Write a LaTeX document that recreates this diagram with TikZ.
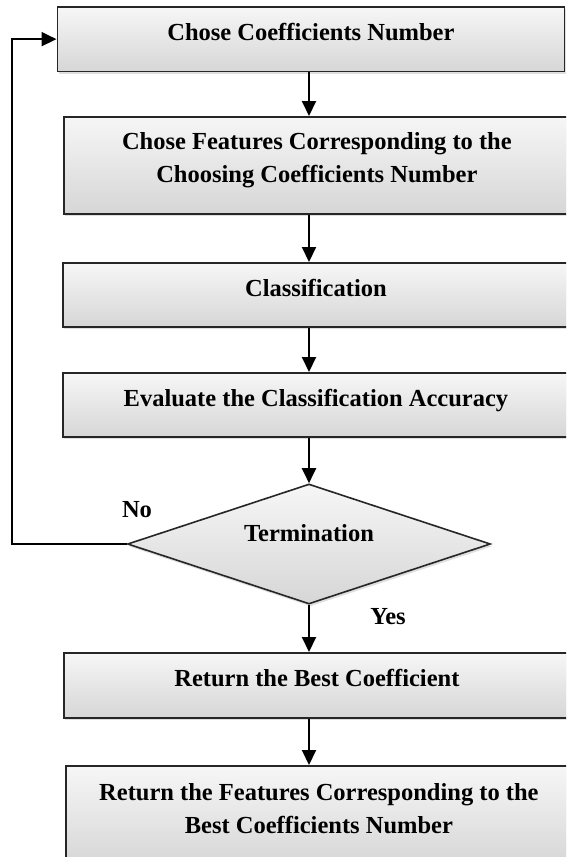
\documentclass[tikz,border=0pt]{standalone}
\usepackage{fontspec}
\setmainfont{Liberation Serif}
\usetikzlibrary{positioning,shapes.geometric,shadows,arrows.meta}

\tikzset{
  procbox/.style={draw=black!85, line width=1.8pt, top color=gray!7, bottom color=gray!32,
    drop shadow={opacity=0.25, shadow xshift=1.5pt, shadow yshift=-2.5pt},
    font=\fontsize{24.5}{33}\selectfont\bfseries, align=center, inner sep=0pt,
    text depth=15pt, anchor=north west},
  decision/.style={diamond, aspect=3, draw=black!85, line width=1.6pt, top color=gray!7, bottom color=gray!32,
    drop shadow={opacity=0.25, shadow xshift=1.5pt, shadow yshift=-2.5pt},
    minimum width=363pt, minimum height=120pt, inner sep=0pt, text depth=23pt,
    font=\fontsize{24.5}{33}\selectfont\bfseries},
  tag/.style={font=\fontsize{24.5}{33}\selectfont\bfseries, inner sep=0pt},
  flow/.style={-{Triangle[length=15pt,width=14pt]}, line width=2pt},
}

\begin{document}
\begin{tikzpicture}[x=1pt, y=-1pt]
  \useasboundingbox (0,0) rectangle (566,857);
  \clip (0,0) rectangle (566,857);

  \node[procbox, minimum width=507pt, minimum height=64.5pt] (b1) at (56.5,6) {Chose Coefficients Number};
  \node[procbox, minimum width=506pt, minimum height=97pt] (b2) at (63,116)
    {Chose Features Corresponding to the\\Choosing Coefficients Number};
  \node[procbox, minimum width=506pt, minimum height=64pt] (b3) at (62,262) {Classification};
  \node[procbox, minimum width=506pt, minimum height=64pt] (b4) at (62,372) {Evaluate the Classification Accuracy};
  \node[decision] (dec) at (309,544) {Termination};
  \node[procbox, minimum width=506pt, minimum height=65pt] (b5) at (63,652) {Return the Best Coefficient};
  \node[procbox, minimum width=506pt, minimum height=100pt] (b6) at (65,765)
    {Return the Features Corresponding to the\\Best Coefficients Number};

  \node[tag] (no) at (137,510) {No};
  \node[tag] (yes) at (388,617) {Yes};

  % main flow
  \draw[flow] (b1.south -| dec) -- (b2.north -| dec);
  \draw[flow] (b2.south -| dec) -- (b3.north -| dec);
  \draw[flow] (b3.south -| dec) -- (b4.north -| dec);
  \draw[flow] (b4.south -| dec) -- (dec.north);
  \draw[flow] (dec.south) -- (b5.north -| dec);
  \draw[flow] (b5.south -| dec) -- (b6.north -| dec);

  % loop back
  \draw[flow] (dec.west) -- ++(-115,0) |- (b1.west);
\end{tikzpicture}
\end{document}
